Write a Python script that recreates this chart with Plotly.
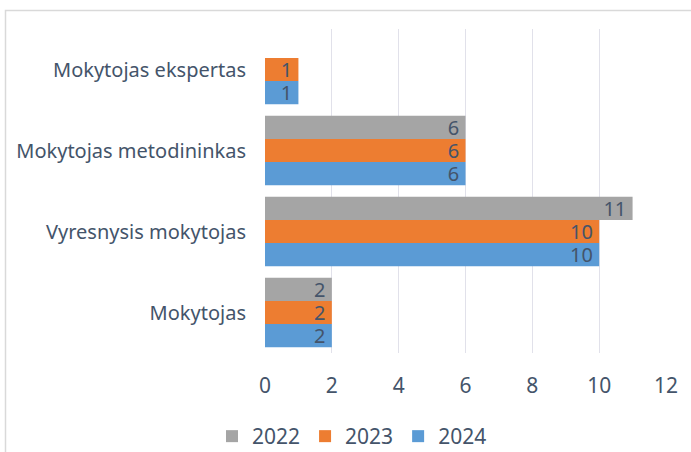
import plotly.graph_objects as go

categories = ["Mokytojas", "Vyresnysis mokytojas", "Mokytojas metodininkas", "Mokytojas ekspertas"]
years = ["2022", "2023", "2024"]
v2022 = [2, 11, 6, None]
v2023 = [2, 10, 6, 1]
v2024 = [2, 10, 6, 1]
x_ticks = [0, 2, 4, 6, 8, 10, 12]

colors = {"2022": "#A5A5A5", "2023": "#ED7D31", "2024": "#5B9BD5"}
series = {"2022": v2022, "2023": v2023, "2024": v2024}
txt = "#44546A"
FONT = "Noto Sans"

fig = go.Figure()
for y in ["2024", "2023", "2022"]:
    vals = series[y]
    fig.add_trace(go.Bar(
        y=categories, x=vals, name=y, orientation="h",
        marker=dict(color=colors[y], line=dict(width=0)),
        text=[("" if v is None else str(v) + "\u2009") for v in vals],
        textposition="inside", insidetextanchor="end",
        constraintext="none", textangle=0,
        textfont=dict(size=20, color=txt, family=FONT),
        cliponaxis=False,
    ))

W, H = 691, 452
L, R, T, B = 265, 25, 29, 99
pw, ph = W - L - R, H - T - B

def px(xp):
    return (xp - L) / pw

def py(yp):
    return (H - B - yp) / ph

fig.update_layout(
    width=W, height=H,
    margin=dict(l=L, r=R, t=T, b=B, pad=0, autoexpand=False),
    barmode="group", bargap=0.14, bargroupgap=0,
    plot_bgcolor="white", paper_bgcolor="white",
    font=dict(family=FONT, color=txt, size=20),
    xaxis=dict(range=[0, 12], tickvals=x_ticks, showgrid=True, gridcolor="#E1E1EA",
               gridwidth=1, zeroline=False, showline=False, ticks="",
               tickfont=dict(size=21, color=txt), ticklabelstandoff=18,
               automargin=False),
    yaxis=dict(showgrid=False, zeroline=False, showline=False, ticks="",
               tickfont=dict(size=20, color=txt), ticklabelstandoff=18,
               automargin=False),
    legend=dict(orientation="h", traceorder="reversed", x=px(212), xanchor="left",
                y=py(416), yanchor="top", font=dict(size=21, color=txt),
                itemwidth=30, bgcolor="rgba(0,0,0,0)"),
    showlegend=True,
    shapes=[dict(type="rect", xref="paper", yref="paper",
                 x0=px(5.5), x1=px(720), y0=py(480), y1=py(10.5),
                 line=dict(color="#D9D9D9", width=1.5), fillcolor="rgba(0,0,0,0)",
                 layer="below")],
)

fig.write_html("out.html", config={"displayModeBar": False},
               post_script="document.body.style.margin='0';document.body.style.overflow='hidden';")
